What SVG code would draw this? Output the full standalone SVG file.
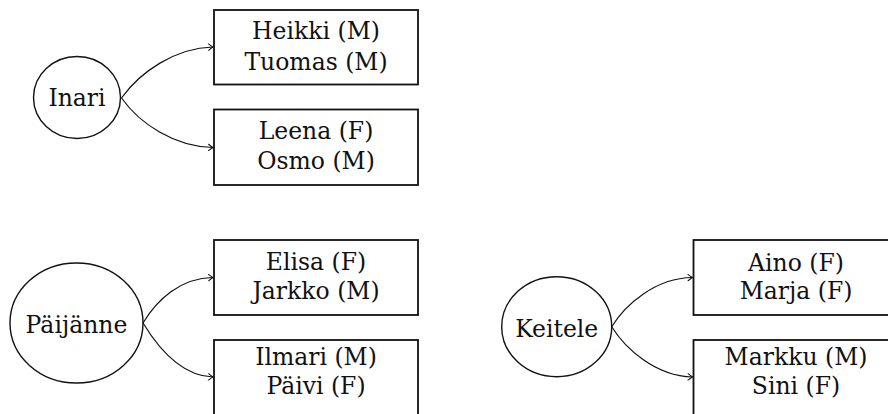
<svg xmlns="http://www.w3.org/2000/svg" width="888" height="414" viewBox="0 0 888 414">
  <defs>
    <marker id="arrow" viewBox="-6 -4 7 8" refX="0" refY="0" markerWidth="7" markerHeight="8" markerUnits="userSpaceOnUse" orient="auto">
      <path d="M-4.5,-3.2 Q-1.5,-0.8 0,0 Q-1.5,0.8 -4.5,3.2" fill="none" stroke="#111" stroke-width="1" stroke-linecap="round"/>
    </marker>
    <style>
      .lake { fill: #fff; stroke: #111; stroke-width: 1.4; }
      .group { fill: #fff; stroke: #111; stroke-width: 1.8; }
      .edge { fill: none; stroke: #111; stroke-width: 1.2; marker-end: url(#arrow); }
      text { font-family: "DejaVu Serif", "Liberation Serif", serif; font-size: 23.5px; fill: #111; text-anchor: middle; }
    </style>
  </defs>
  <rect width="888" height="414" fill="#fff"/>

  <!-- lake: Inari -->
  <g id="inari">
    <ellipse class="lake" cx="77" cy="97.5" rx="43.5" ry="41"/>
    <text x="77" y="105.5">Inari</text>
  </g>
  <g id="inari-group1">
    <rect class="group" x="214" y="10" width="204" height="74.5"/>
    <text x="316" y="38.5">Heikki (M)</text>
    <text x="316" y="70">Tuomas (M)</text>
  </g>
  <g id="inari-group2">
    <rect class="group" x="214" y="109.5" width="204" height="75.5"/>
    <text x="316" y="139">Leena (F)</text>
    <text x="316" y="168.5">Osmo (M)</text>
  </g>

  <!-- lake: Päijänne -->
  <g id="paijanne">
    <ellipse class="lake" cx="76.5" cy="323" rx="66.5" ry="60"/>
    <text x="76.5" y="333">Päijänne</text>
  </g>
  <g id="paijanne-group1">
    <rect class="group" x="214" y="240" width="204" height="75"/>
    <text x="316" y="270">Elisa (F)</text>
    <text x="316" y="298.5">Jarkko (M)</text>
  </g>
  <g id="paijanne-group2">
    <rect class="group" x="214" y="340" width="204" height="76"/>
    <text x="316" y="365">Ilmari (M)</text>
    <text x="316" y="393.5">Päivi (F)</text>
  </g>

  <!-- lake: Keitele -->
  <g id="keitele">
    <ellipse class="lake" cx="556.7" cy="326.7" rx="55" ry="50"/>
    <text x="556.7" y="336.5">Keitele</text>
  </g>
  <g id="keitele-group1">
    <rect class="group" x="693.5" y="240" width="206" height="75"/>
    <text x="796" y="270.5">Aino (F)</text>
    <text x="796" y="298.5">Marja (F)</text>
  </g>
  <g id="keitele-group2">
    <rect class="group" x="693.5" y="340" width="206" height="76"/>
    <text x="796" y="365">Markku (M)</text>
    <text x="796" y="393.5">Sini (F)</text>
  </g>

  <!-- connectors -->
  <g id="connectors">
    <path class="edge" d="M121.5,98 C140,72 175,48 213,47"/>
    <path class="edge" d="M121.5,98 C140,124 175,147 213,147.5"/>
    <path class="edge" d="M143,323 C157,300 180,278 213,277.5"/>
    <path class="edge" d="M143,323 C157,346 180,376 213,377"/>
    <path class="edge" d="M611.7,326.7 C625,305 655,278 692.5,277.5"/>
    <path class="edge" d="M611.7,326.7 C625,348 655,376 692.5,377"/>
  </g>
</svg>
